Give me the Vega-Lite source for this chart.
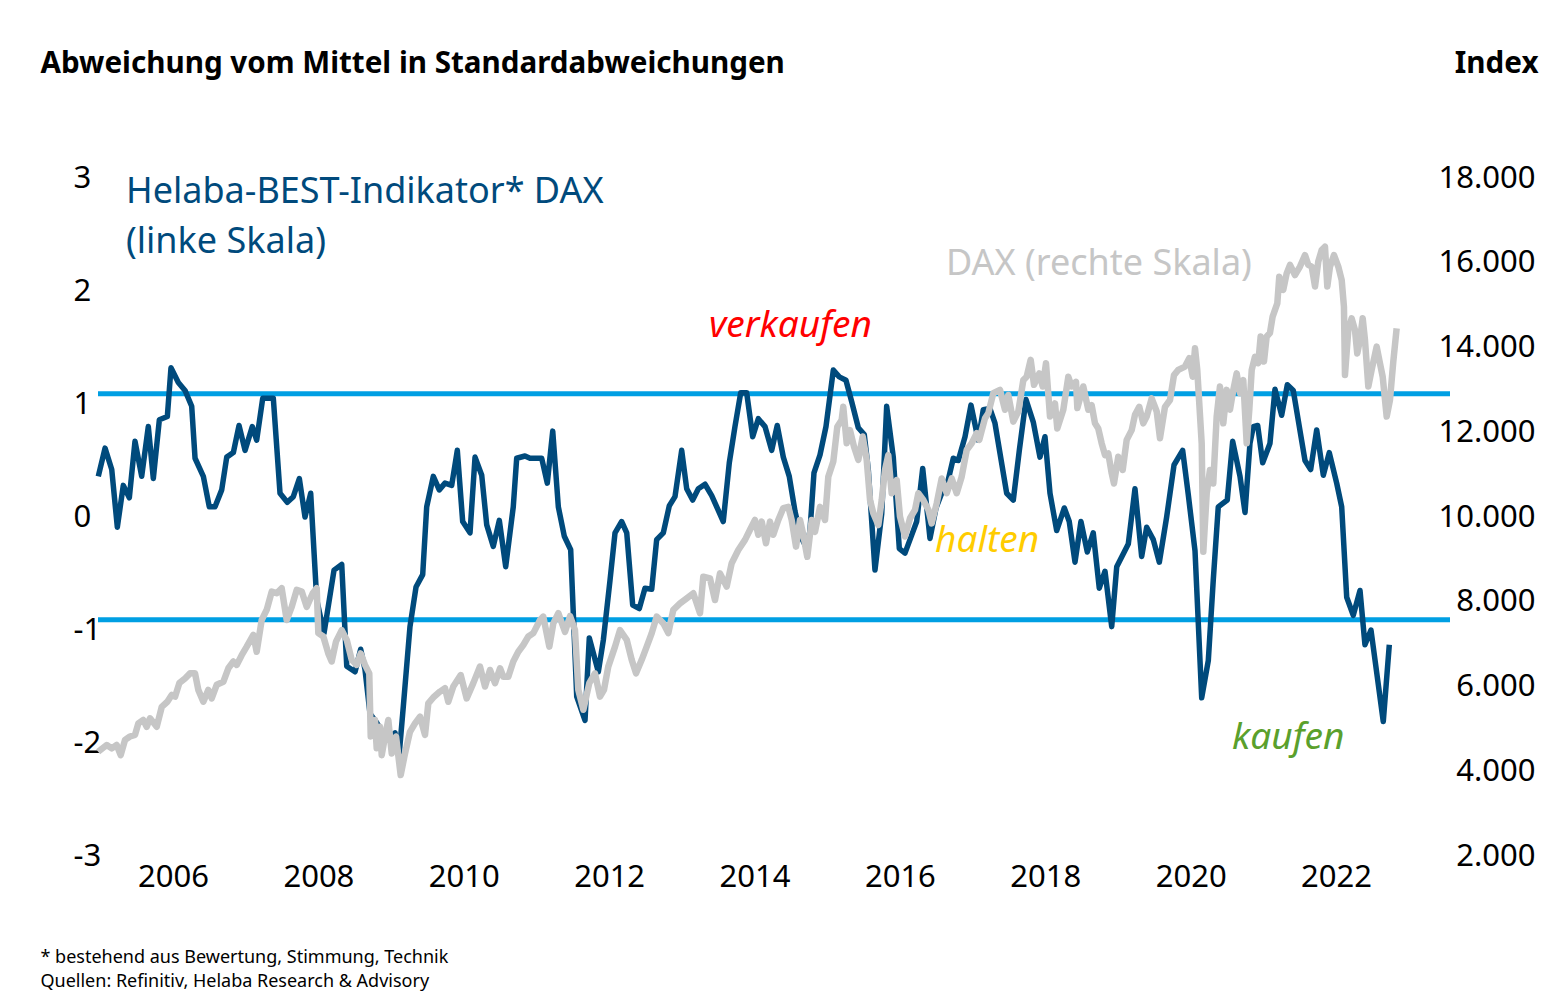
{
  "$schema": "https://vega.github.io/schema/vega-lite/v6.json",
  "width": 1352,
  "height": 678,
  "autosize": {"type": "none"},
  "padding": {"left": 98, "top": 178, "right": 110, "bottom": 136},
  "background": "white",
  "config": {"view": {"stroke": null}, "font": "Noto Sans"},
  "datasets": {
    "bands": [{"level": 1.09}, {"level": -0.91}],
    "notes": [
      {"note": "Helaba-BEST-Indikator* DAX", "year": 2005.353, "value": 2.876},
      {"note": "(linke Skala)", "year": 2005.353, "value": 2.434},
      {"note": "DAX (rechte Skala)", "year": 2016.634, "value": 2.239},
      {"note": "verkaufen", "year": 2013.374, "value": 1.69},
      {"note": "halten", "year": 2016.483, "value": -0.212},
      {"note": "kaufen", "year": 2020.569, "value": -1.956}
    ],
    "best": [
      {"year":2004.972,"value":0.36},{"year":2005.065,"value":0.61},{"year":2005.157,"value":0.42},{"year":2005.234,"value":-0.09},
      {"year":2005.316,"value":0.28},{"year":2005.399,"value":0.17},{"year":2005.477,"value":0.67},{"year":2005.569,"value":0.36},
      {"year":2005.66,"value":0.8},{"year":2005.729,"value":0.34},{"year":2005.812,"value":0.86},{"year":2005.922,"value":0.89},
      {"year":2005.972,"value":1.32},{"year":2006.073,"value":1.19},{"year":2006.165,"value":1.12},{"year":2006.257,"value":0.98},
      {"year":2006.303,"value":0.52},{"year":2006.417,"value":0.36},{"year":2006.499,"value":0.09},{"year":2006.578,"value":0.09},
      {"year":2006.67,"value":0.24},{"year":2006.739,"value":0.53},{"year":2006.83,"value":0.57},{"year":2006.908,"value":0.81},
      {"year":2006.991,"value":0.59},{"year":2007.091,"value":0.8},{"year":2007.151,"value":0.68},{"year":2007.234,"value":1.05},
      {"year":2007.38,"value":1.05},{"year":2007.472,"value":0.21},{"year":2007.572,"value":0.13},{"year":2007.655,"value":0.18},
      {"year":2007.738,"value":0.34},{"year":2007.816,"value":0.0},{"year":2007.894,"value":0.21},{"year":2007.977,"value":-0.73},
      {"year":2008.077,"value":-1.03},{"year":2008.215,"value":-0.47},{"year":2008.321,"value":-0.42},{"year":2008.39,"value":-1.32},
      {"year":2008.504,"value":-1.37},{"year":2008.582,"value":-1.17},{"year":2008.641,"value":-1.35},{"year":2008.71,"value":-1.74},
      {"year":2008.802,"value":-1.82},{"year":2008.94,"value":-1.97},{"year":2009.054,"value":-1.91},{"year":2009.113,"value":-2.09},
      {"year":2009.168,"value":-1.68},{"year":2009.26,"value":-0.97},{"year":2009.343,"value":-0.62},{"year":2009.435,"value":-0.51},
      {"year":2009.49,"value":0.09},{"year":2009.581,"value":0.36},{"year":2009.663,"value":0.24},{"year":2009.742,"value":0.3},
      {"year":2009.834,"value":0.28},{"year":2009.911,"value":0.59},{"year":2009.985,"value":-0.04},{"year":2010.086,"value":-0.14},
      {"year":2010.155,"value":0.53},{"year":2010.247,"value":0.37},{"year":2010.316,"value":-0.07},{"year":2010.406,"value":-0.26},
      {"year":2010.489,"value":-0.03},{"year":2010.577,"value":-0.44},{"year":2010.681,"value":0.09},{"year":2010.728,"value":0.52},
      {"year":2010.842,"value":0.54},{"year":2010.911,"value":0.52},{"year":2011.072,"value":0.52},{"year":2011.149,"value":0.3},
      {"year":2011.224,"value":0.76},{"year":2011.301,"value":0.09},{"year":2011.383,"value":-0.17},{"year":2011.471,"value":-0.29},
      {"year":2011.554,"value":-1.59},{"year":2011.668,"value":-1.8},{"year":2011.727,"value":-1.07},{"year":2011.851,"value":-1.37},
      {"year":2011.92,"value":-1.09},{"year":2012.012,"value":-0.56},{"year":2012.081,"value":-0.14},{"year":2012.173,"value":-0.04},
      {"year":2012.242,"value":-0.14},{"year":2012.324,"value":-0.78},{"year":2012.415,"value":-0.81},{"year":2012.493,"value":-0.63},
      {"year":2012.586,"value":-0.64},{"year":2012.654,"value":-0.2},{"year":2012.745,"value":-0.14},{"year":2012.828,"value":0.1},
      {"year":2012.906,"value":0.18},{"year":2012.998,"value":0.59},{"year":2013.067,"value":0.25},{"year":2013.149,"value":0.15},
      {"year":2013.227,"value":0.25},{"year":2013.319,"value":0.29},{"year":2013.411,"value":0.19},{"year":2013.48,"value":0.09},
      {"year":2013.57,"value":-0.04},{"year":2013.653,"value":0.48},{"year":2013.731,"value":0.8},{"year":2013.81,"value":1.1},
      {"year":2013.892,"value":1.1},{"year":2013.975,"value":0.71},{"year":2014.052,"value":0.87},{"year":2014.144,"value":0.8},
      {"year":2014.236,"value":0.59},{"year":2014.313,"value":0.81},{"year":2014.396,"value":0.53},{"year":2014.478,"value":0.36},
      {"year":2014.557,"value":0.05},{"year":2014.635,"value":-0.17},{"year":2014.72,"value":-0.28},{"year":2014.763,"value":-0.12},
      {"year":2014.818,"value":0.39},{"year":2014.901,"value":0.55},{"year":2014.983,"value":0.8},{"year":2015.084,"value":1.3},
      {"year":2015.166,"value":1.24},{"year":2015.258,"value":1.21},{"year":2015.337,"value":1.02},{"year":2015.428,"value":0.79},
      {"year":2015.51,"value":0.73},{"year":2015.565,"value":0.42},{"year":2015.657,"value":-0.47},{"year":2015.75,"value":0.03},
      {"year":2015.818,"value":0.98},{"year":2015.909,"value":0.53},{"year":2015.992,"value":-0.28},{"year":2016.07,"value":-0.32},
      {"year":2016.162,"value":-0.16},{"year":2016.231,"value":-0.04},{"year":2016.314,"value":0.43},{"year":2016.414,"value":-0.19},
      {"year":2016.497,"value":0.08},{"year":2016.575,"value":0.21},{"year":2016.666,"value":0.33},{"year":2016.735,"value":0.52},
      {"year":2016.803,"value":0.5},{"year":2016.896,"value":0.71},{"year":2016.978,"value":0.99},{"year":2017.078,"value":0.68},
      {"year":2017.147,"value":0.95},{"year":2017.239,"value":0.96},{"year":2017.308,"value":0.83},{"year":2017.469,"value":0.21},
      {"year":2017.56,"value":0.15},{"year":2017.643,"value":0.59},{"year":2017.735,"value":1.04},{"year":2017.835,"value":0.84},
      {"year":2017.927,"value":0.53},{"year":2017.996,"value":0.71},{"year":2018.065,"value":0.21},{"year":2018.157,"value":-0.12},
      {"year":2018.262,"value":0.08},{"year":2018.33,"value":-0.04},{"year":2018.409,"value":-0.4},{"year":2018.491,"value":-0.04},
      {"year":2018.578,"value":-0.31},{"year":2018.66,"value":-0.14},{"year":2018.743,"value":-0.63},{"year":2018.822,"value":-0.48},
      {"year":2018.914,"value":-0.97},{"year":2018.983,"value":-0.44},{"year":2019.142,"value":-0.24},{"year":2019.234,"value":0.25},
      {"year":2019.326,"value":-0.35},{"year":2019.395,"value":-0.09},{"year":2019.486,"value":-0.2},{"year":2019.569,"value":-0.4},
      {"year":2019.67,"value":0.0},{"year":2019.771,"value":0.46},{"year":2019.89,"value":0.59},{"year":2019.967,"value":0.2},
      {"year":2020.06,"value":-0.3},{"year":2020.152,"value":-1.6},{"year":2020.243,"value":-1.27},{"year":2020.311,"value":-0.56},
      {"year":2020.38,"value":0.09},{"year":2020.504,"value":0.15},{"year":2020.578,"value":0.67},{"year":2020.679,"value":0.36},
      {"year":2020.748,"value":0.04},{"year":2020.816,"value":0.65},{"year":2020.862,"value":0.8},{"year":2020.922,"value":0.81},
      {"year":2020.991,"value":0.48},{"year":2021.091,"value":0.65},{"year":2021.16,"value":1.13},{"year":2021.252,"value":0.9},
      {"year":2021.33,"value":1.17},{"year":2021.412,"value":1.12},{"year":2021.495,"value":0.8},{"year":2021.573,"value":0.5},
      {"year":2021.651,"value":0.42},{"year":2021.734,"value":0.77},{"year":2021.825,"value":0.37},{"year":2021.907,"value":0.57},
      {"year":2022.009,"value":0.3},{"year":2022.078,"value":0.09},{"year":2022.147,"value":-0.71},{"year":2022.237,"value":-0.87},
      {"year":2022.33,"value":-0.65},{"year":2022.398,"value":-1.13},{"year":2022.481,"value":-1.0},{"year":2022.65,"value":-1.81},
      {"year":2022.733,"value":-1.13}
    ],
    "dax": [
      {"year":2004.97,"dax":4460},{"year":2005.088,"dax":4620},{"year":2005.157,"dax":4540},{"year":2005.225,"dax":4620},
      {"year":2005.28,"dax":4380},{"year":2005.34,"dax":4740},{"year":2005.408,"dax":4820},{"year":2005.477,"dax":4860},
      {"year":2005.523,"dax":5130},{"year":2005.591,"dax":5210},{"year":2005.638,"dax":5050},{"year":2005.684,"dax":5250},
      {"year":2005.776,"dax":5050},{"year":2005.845,"dax":5520},{"year":2005.922,"dax":5640},{"year":2005.982,"dax":5800},
      {"year":2006.028,"dax":5760},{"year":2006.087,"dax":6080},{"year":2006.165,"dax":6190},{"year":2006.234,"dax":6310},
      {"year":2006.303,"dax":6310},{"year":2006.348,"dax":5920},{"year":2006.417,"dax":5640},{"year":2006.486,"dax":5920},
      {"year":2006.532,"dax":5720},{"year":2006.601,"dax":6040},{"year":2006.692,"dax":6110},{"year":2006.761,"dax":6430},
      {"year":2006.83,"dax":6590},{"year":2006.876,"dax":6510},{"year":2006.945,"dax":6740},{"year":2007.014,"dax":6940},
      {"year":2007.105,"dax":7220},{"year":2007.151,"dax":6820},{"year":2007.22,"dax":7570},{"year":2007.289,"dax":7810},
      {"year":2007.358,"dax":8240},{"year":2007.427,"dax":8200},{"year":2007.495,"dax":8320},{"year":2007.564,"dax":7570},
      {"year":2007.633,"dax":7880},{"year":2007.702,"dax":8280},{"year":2007.771,"dax":8240},{"year":2007.839,"dax":7880},
      {"year":2007.922,"dax":8200},{"year":2007.977,"dax":8320},{"year":2007.999,"dax":7260},{"year":2008.068,"dax":7180},
      {"year":2008.136,"dax":6780},{"year":2008.183,"dax":6590},{"year":2008.242,"dax":7060},{"year":2008.321,"dax":7330},
      {"year":2008.39,"dax":7100},{"year":2008.458,"dax":6630},{"year":2008.527,"dax":6510},{"year":2008.582,"dax":6780},
      {"year":2008.641,"dax":6510},{"year":2008.7,"dax":6310},{"year":2008.72,"dax":4820},{"year":2008.779,"dax":5210},
      {"year":2008.802,"dax":4540},{"year":2008.848,"dax":5050},{"year":2008.871,"dax":4380},{"year":2008.917,"dax":4820},
      {"year":2008.962,"dax":5210},{"year":2009.009,"dax":4420},{"year":2009.068,"dax":4820},{"year":2009.132,"dax":3910},
      {"year":2009.192,"dax":4420},{"year":2009.26,"dax":4930},{"year":2009.329,"dax":5130},{"year":2009.398,"dax":5290},
      {"year":2009.467,"dax":4860},{"year":2009.512,"dax":5600},{"year":2009.591,"dax":5760},{"year":2009.673,"dax":5880},
      {"year":2009.742,"dax":5960},{"year":2009.787,"dax":5640},{"year":2009.856,"dax":6000},{"year":2009.958,"dax":6270},
      {"year":2010.04,"dax":5720},{"year":2010.131,"dax":6080},{"year":2010.223,"dax":6470},{"year":2010.292,"dax":6000},
      {"year":2010.361,"dax":6390},{"year":2010.43,"dax":6080},{"year":2010.499,"dax":6430},{"year":2010.544,"dax":6230},
      {"year":2010.613,"dax":6230},{"year":2010.681,"dax":6590},{"year":2010.75,"dax":6820},{"year":2010.819,"dax":6980},
      {"year":2010.888,"dax":7180},{"year":2010.957,"dax":7260},{"year":2011.049,"dax":7570},{"year":2011.094,"dax":7650},
      {"year":2011.177,"dax":6940},{"year":2011.232,"dax":7490},{"year":2011.301,"dax":7730},{"year":2011.393,"dax":7290},
      {"year":2011.462,"dax":7660},{"year":2011.53,"dax":7330},{"year":2011.576,"dax":5920},{"year":2011.645,"dax":5450},
      {"year":2011.727,"dax":6080},{"year":2011.805,"dax":6310},{"year":2011.874,"dax":5760},{"year":2011.929,"dax":5920},
      {"year":2011.988,"dax":6470},{"year":2012.081,"dax":6940},{"year":2012.149,"dax":7330},{"year":2012.242,"dax":7100},
      {"year":2012.31,"dax":6630},{"year":2012.37,"dax":6310},{"year":2012.448,"dax":6630},{"year":2012.517,"dax":6940},
      {"year":2012.586,"dax":7260},{"year":2012.654,"dax":7650},{"year":2012.745,"dax":7490},{"year":2012.814,"dax":7260},
      {"year":2012.883,"dax":7810},{"year":2012.975,"dax":7960},{"year":2013.067,"dax":8080},{"year":2013.158,"dax":8200},
      {"year":2013.25,"dax":7730},{"year":2013.295,"dax":8590},{"year":2013.388,"dax":8550},{"year":2013.456,"dax":8040},
      {"year":2013.525,"dax":8670},{"year":2013.617,"dax":8360},{"year":2013.686,"dax":8910},{"year":2013.777,"dax":9220},
      {"year":2013.869,"dax":9460},{"year":2013.938,"dax":9700},{"year":2014.006,"dax":9930},{"year":2014.052,"dax":9580},
      {"year":2014.099,"dax":9890},{"year":2014.158,"dax":9380},{"year":2014.213,"dax":9890},{"year":2014.258,"dax":9580},
      {"year":2014.327,"dax":9930},{"year":2014.396,"dax":10210},{"year":2014.465,"dax":10240},{"year":2014.511,"dax":9930},
      {"year":2014.571,"dax":9300},{"year":2014.626,"dax":9930},{"year":2014.671,"dax":9580},{"year":2014.726,"dax":9060},
      {"year":2014.787,"dax":9930},{"year":2014.832,"dax":9650},{"year":2014.901,"dax":10240},{"year":2014.97,"dax":9930},
      {"year":2015.015,"dax":10950},{"year":2015.084,"dax":11310},{"year":2015.139,"dax":12130},{"year":2015.199,"dax":12290},
      {"year":2015.221,"dax":12600},{"year":2015.268,"dax":11740},{"year":2015.313,"dax":12050},{"year":2015.369,"dax":11660},
      {"year":2015.428,"dax":11350},{"year":2015.488,"dax":11900},{"year":2015.543,"dax":11350},{"year":2015.589,"dax":10400},
      {"year":2015.634,"dax":10090},{"year":2015.703,"dax":9810},{"year":2015.75,"dax":10400},{"year":2015.795,"dax":11110},
      {"year":2015.84,"dax":11460},{"year":2015.887,"dax":10560},{"year":2015.956,"dax":10870},{"year":2016.001,"dax":10010},
      {"year":2016.07,"dax":9540},{"year":2016.139,"dax":9970},{"year":2016.208,"dax":10170},{"year":2016.253,"dax":10560},
      {"year":2016.322,"dax":10400},{"year":2016.391,"dax":10170},{"year":2016.437,"dax":9850},{"year":2016.506,"dax":10320},
      {"year":2016.575,"dax":10910},{"year":2016.644,"dax":10560},{"year":2016.713,"dax":10910},{"year":2016.781,"dax":10560},
      {"year":2016.85,"dax":10950},{"year":2016.919,"dax":11580},{"year":2016.988,"dax":11740},{"year":2017.057,"dax":11980},
      {"year":2017.092,"dax":11820},{"year":2017.171,"dax":12330},{"year":2017.216,"dax":12450},{"year":2017.285,"dax":12920},
      {"year":2017.377,"dax":13000},{"year":2017.446,"dax":12530},{"year":2017.491,"dax":12880},{"year":2017.56,"dax":12250},
      {"year":2017.629,"dax":12490},{"year":2017.698,"dax":13230},{"year":2017.744,"dax":13310},{"year":2017.799,"dax":13710},
      {"year":2017.845,"dax":13120},{"year":2017.918,"dax":13390},{"year":2017.964,"dax":13080},{"year":2018.01,"dax":13630},
      {"year":2018.065,"dax":12370},{"year":2018.134,"dax":12680},{"year":2018.165,"dax":12090},{"year":2018.248,"dax":12530},
      {"year":2018.317,"dax":13310},{"year":2018.363,"dax":13080},{"year":2018.423,"dax":13190},{"year":2018.441,"dax":12570},
      {"year":2018.523,"dax":13080},{"year":2018.592,"dax":12530},{"year":2018.638,"dax":12640},{"year":2018.684,"dax":12210},
      {"year":2018.729,"dax":12090},{"year":2018.776,"dax":11740},{"year":2018.822,"dax":11460},{"year":2018.867,"dax":11500},
      {"year":2018.914,"dax":11030},{"year":2018.945,"dax":10790},{"year":2019.004,"dax":11420},{"year":2019.065,"dax":11110},
      {"year":2019.12,"dax":11820},{"year":2019.189,"dax":12050},{"year":2019.234,"dax":12410},{"year":2019.293,"dax":12600},
      {"year":2019.348,"dax":12210},{"year":2019.395,"dax":12370},{"year":2019.464,"dax":12800},{"year":2019.533,"dax":12490},
      {"year":2019.578,"dax":11860},{"year":2019.647,"dax":12600},{"year":2019.716,"dax":12760},{"year":2019.771,"dax":13350},
      {"year":2019.83,"dax":13470},{"year":2019.922,"dax":13550},{"year":2019.981,"dax":13750},{"year":2020.028,"dax":13310},
      {"year":2020.06,"dax":13980},{"year":2020.091,"dax":13470},{"year":2020.152,"dax":11740},{"year":2020.174,"dax":9180},
      {"year":2020.221,"dax":10560},{"year":2020.266,"dax":11110},{"year":2020.311,"dax":10790},{"year":2020.358,"dax":12370},
      {"year":2020.403,"dax":13080},{"year":2020.449,"dax":12210},{"year":2020.496,"dax":13000},{"year":2020.541,"dax":12530},
      {"year":2020.587,"dax":13000},{"year":2020.633,"dax":13390},{"year":2020.679,"dax":12920},{"year":2020.724,"dax":13230},
      {"year":2020.771,"dax":11740},{"year":2020.807,"dax":12530},{"year":2020.84,"dax":13470},{"year":2020.885,"dax":13780},
      {"year":2020.93,"dax":13630},{"year":2020.963,"dax":14260},{"year":2021.009,"dax":13670},{"year":2021.046,"dax":14260},
      {"year":2021.091,"dax":14340},{"year":2021.128,"dax":14730},{"year":2021.192,"dax":15040},{"year":2021.219,"dax":15670},
      {"year":2021.274,"dax":15360},{"year":2021.321,"dax":15750},{"year":2021.367,"dax":15950},{"year":2021.435,"dax":15710},
      {"year":2021.504,"dax":15910},{"year":2021.573,"dax":16180},{"year":2021.618,"dax":15950},{"year":2021.665,"dax":15910},
      {"year":2021.711,"dax":15440},{"year":2021.756,"dax":16030},{"year":2021.803,"dax":16300},{"year":2021.848,"dax":16380},
      {"year":2021.88,"dax":15440},{"year":2021.917,"dax":15910},{"year":2021.972,"dax":16180},{"year":2022.031,"dax":15910},
      {"year":2022.078,"dax":15590},{"year":2022.109,"dax":14960},{"year":2022.123,"dax":13350},{"year":2022.169,"dax":14410},
      {"year":2022.215,"dax":14690},{"year":2022.261,"dax":14410},{"year":2022.292,"dax":13860},{"year":2022.33,"dax":14180},
      {"year":2022.367,"dax":14690},{"year":2022.398,"dax":14180},{"year":2022.444,"dax":13080},{"year":2022.49,"dax":13470},
      {"year":2022.559,"dax":14020},{"year":2022.604,"dax":13630},{"year":2022.642,"dax":13310},{"year":2022.697,"dax":12370},
      {"year":2022.742,"dax":12760},{"year":2022.788,"dax":13670},{"year":2022.834,"dax":14450}
    ]
  },
  "layer": [
    {
      "layer": [
        {
          "data": {"name": "bands"},
          "mark": {"type": "rule", "color": "#009fe3", "strokeWidth": 5},
          "encoding": {
            "y": {
              "field": "level", "type": "quantitative",
              "scale": {"domain": [-3, 3], "nice": false, "zero": false},
              "axis": {
                "orient": "left", "values": [-3, -2, -1, 0, 1, 2, 3], "labelExpr": "datum.value + ''",
                "domain": false, "ticks": false, "grid": false,
                "labelFont": "Noto Sans", "labelFontSize": 31, "labelColor": "black", "labelAlign": "left",
                "labelBaseline": "middle", "labelPadding": 25, "labelFlush": false, "labelOverlap": false,
                "title": "Abweichung vom Mittel in Standardabweichungen",
                "titleFont": "Noto Sans", "titleFontSize": 29.6, "titleFontWeight": "bold", "titleColor": "black",
                "titleAngle": 0, "titleAlign": "left", "titleBaseline": "alphabetic", "titleX": -58, "titleY": -106
              }
            }
          }
        },
        {
          "data": {"name": "best"},
          "mark": {"type": "line", "color": "#004a7c", "strokeWidth": 5.5, "strokeJoin": "round"},
          "encoding": {
            "x": {
              "field": "year", "type": "quantitative",
              "scale": {"domain": [2004.968, 2023.568], "nice": false, "zero": false},
              "axis": {
                "values": [2006, 2008, 2010, 2012, 2014, 2016, 2018, 2020, 2022],
                "format": "d", "domain": false, "ticks": false, "grid": false,
                "labelFont": "Noto Sans", "labelFontSize": 31, "labelColor": "black", "labelPadding": 6,
                "labelFlush": false, "labelOverlap": false,
                "title": ["* bestehend aus Bewertung, Stimmung, Technik", "Quellen: Refinitiv, Helaba Research & Advisory"],
                "titleFont": "Noto Sans", "titleFontSize": 18, "titleFontWeight": "normal", "titleColor": "black",
                "titleAlign": "left", "titleAnchor": "start", "titleBaseline": "alphabetic",
                "titleX": -58, "titleY": 106, "titleLineHeight": 24
              }
            },
            "y": {"field": "value", "type": "quantitative"}
          }
        },
        {
          "data": {"name": "notes"},
          "transform": [{"filter": "datum.note === 'Helaba-BEST-Indikator* DAX' || datum.note === '(linke Skala)'"}],
          "mark": {"type": "text", "align": "left", "baseline": "middle", "font": "Noto Sans", "fontSize": 36, "color": "#004a7c"},
          "encoding": {
            "x": {"field": "year", "type": "quantitative"},
            "y": {"field": "value", "type": "quantitative"},
            "text": {"field": "note"}
          }
        },
        {
          "data": {"name": "notes"},
          "transform": [{"filter": "datum.note === 'DAX (rechte Skala)'"}],
          "mark": {"type": "text", "align": "left", "baseline": "middle", "font": "Noto Sans", "fontSize": 36, "color": "#c6c6c6"},
          "encoding": {
            "x": {"field": "year", "type": "quantitative"},
            "y": {"field": "value", "type": "quantitative"},
            "text": {"field": "note"}
          }
        },
        {
          "data": {"name": "notes"},
          "transform": [{"filter": "datum.note === 'verkaufen'"}],
          "mark": {"type": "text", "align": "left", "baseline": "middle", "font": "Noto Sans", "fontStyle": "italic", "fontSize": 37, "color": "#ff0000"},
          "encoding": {
            "x": {"field": "year", "type": "quantitative"},
            "y": {"field": "value", "type": "quantitative"},
            "text": {"field": "note"}
          }
        },
        {
          "data": {"name": "notes"},
          "transform": [{"filter": "datum.note === 'halten'"}],
          "mark": {"type": "text", "align": "left", "baseline": "middle", "font": "Noto Sans", "fontStyle": "italic", "fontSize": 37, "color": "#ffcc00"},
          "encoding": {
            "x": {"field": "year", "type": "quantitative"},
            "y": {"field": "value", "type": "quantitative"},
            "text": {"field": "note"}
          }
        },
        {
          "data": {"name": "notes"},
          "transform": [{"filter": "datum.note === 'kaufen'"}],
          "mark": {"type": "text", "align": "left", "baseline": "middle", "font": "Noto Sans", "fontStyle": "italic", "fontSize": 37, "color": "#5aa02c"},
          "encoding": {
            "x": {"field": "year", "type": "quantitative"},
            "y": {"field": "value", "type": "quantitative"},
            "text": {"field": "note"}
          }
        }
      ]
    },
    {
      "data": {"name": "dax"},
      "mark": {"type": "line", "color": "#c6c6c6", "strokeWidth": 6.5, "strokeJoin": "round"},
      "encoding": {
        "x": {"field": "year", "type": "quantitative"},
        "y": {
          "field": "dax", "type": "quantitative",
          "scale": {"domain": [2000, 18000], "nice": false, "zero": false},
          "axis": {
            "orient": "right", "values": [2000, 4000, 6000, 8000, 10000, 12000, 14000, 16000, 18000],
            "labelExpr": "replace(format(datum.value, ','), ',', '.')",
            "domain": false, "ticks": false, "grid": false,
            "labelFont": "Noto Sans", "labelFontSize": 31, "labelColor": "black", "labelAlign": "right",
            "labelBaseline": "middle", "labelPadding": 85, "labelFlush": false, "labelOverlap": false,
            "title": "Index",
            "titleFont": "Noto Sans", "titleFontSize": 29.6, "titleFontWeight": "bold", "titleColor": "black",
            "titleAngle": 0, "titleAlign": "right", "titleBaseline": "alphabetic", "titleX": 88, "titleY": -106
          }
        }
      }
    }
  ],
  "resolve": {"scale": {"y": "independent"}}
}
